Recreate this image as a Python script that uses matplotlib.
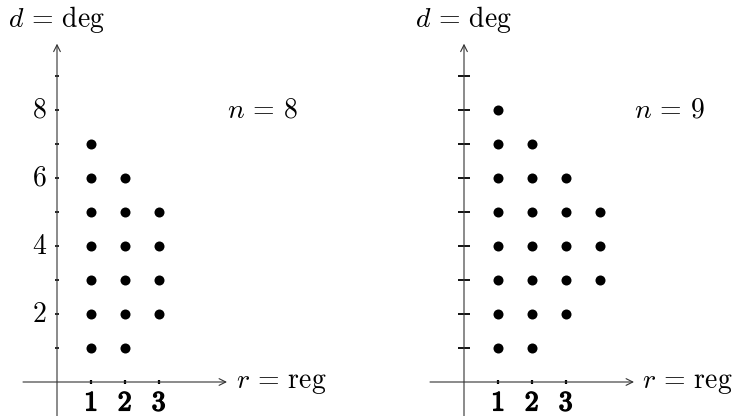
import matplotlib
matplotlib.use("Agg")
import matplotlib.pyplot as plt
import matplotlib.patheffects as pe

plt.rcParams['mathtext.fontset'] = 'cm'
plt.rcParams['font.family'] = ['DejaVu Serif']

# columns of points: register count r -> range of degrees d
left_r = [1, 1, 1, 1, 1, 1, 1, 2, 2, 2, 2, 2, 2, 3, 3, 3, 3]
left_d = [1, 2, 3, 4, 5, 6, 7, 1, 2, 3, 4, 5, 6, 2, 3, 4, 5]
right_r = [1, 1, 1, 1, 1, 1, 1, 1, 2, 2, 2, 2, 2, 2, 2, 3, 3, 3, 3, 3, 4, 4, 4]
right_d = [1, 2, 3, 4, 5, 6, 7, 8, 1, 2, 3, 4, 5, 6, 7, 2, 3, 4, 5, 6, 3, 4, 5]
x_ticks = [1, 2, 3]
y_ticks = [1, 2, 3, 4, 5, 6, 7, 8, 9]
left_ylabels = [2, 4, 6, 8]
n_values = [8, 9]

U = 34.0  # pixels per unit
fig = plt.figure(figsize=(7.34, 4.16), dpi=100)
ax = fig.add_axes([0, 0, 1, 1])
ax.set_xlim(-57 / U, (734 - 57) / U)
ax.set_ylim(-34 / U, 382 / U)
ax.axis('off')

FS = 20
bold = [pe.withStroke(linewidth=1.0, foreground='black')]


def panel(ox, rs, ds, n, long_ticks, labels):
    arrow = dict(arrowstyle='->', lw=0.8, color='#333333', shrinkA=0, shrinkB=0,
                 mutation_scale=12)
    ax.annotate('', xy=(ox + 5, 0), xytext=(ox - 1, 0), arrowprops=arrow)
    ax.annotate('', xy=(ox, 9.95), xytext=(ox, -1.2), arrowprops=arrow)
    ax.scatter([ox + r for r in rs], ds, s=52, color='black', zorder=3, linewidths=0)
    th = 0.18 if long_ticks else 0.07
    for y in y_ticks:
        ax.plot([ox - th, ox + th], [y, y], color='black', lw=1.3 if long_ticks else 1.2,
                solid_capstyle='butt')
    for x in x_ticks:
        ax.plot([ox + x, ox + x], [-0.07, 0.07], color='black', lw=1.6,
                solid_capstyle='butt')
        ax.text(ox + x, -0.22, r'$%d$' % x, ha='center', va='top', fontsize=FS,
                path_effects=bold)
    for y in labels:
        ax.text(ox - 0.3, y, r'$%d$' % y, ha='right', va='center', fontsize=FS)
    ax.text(ox + 5.25, 0, r'$r\,=\,\mathrm{reg}$', ha='left', va='center', fontsize=FS)
    ax.text(ox, 10.65, r'$d\,=\,\mathrm{deg}$', ha='center', va='center', fontsize=FS)
    ax.text(ox + 6.05, 8, r'$n\,=\,%d$' % n, ha='center', va='center', fontsize=FS)


panel(0, left_r, left_d, n_values[0], False, left_ylabels)
panel(407 / U, right_r, right_d, n_values[1], True, [])

fig.savefig('out.png', dpi=100)
